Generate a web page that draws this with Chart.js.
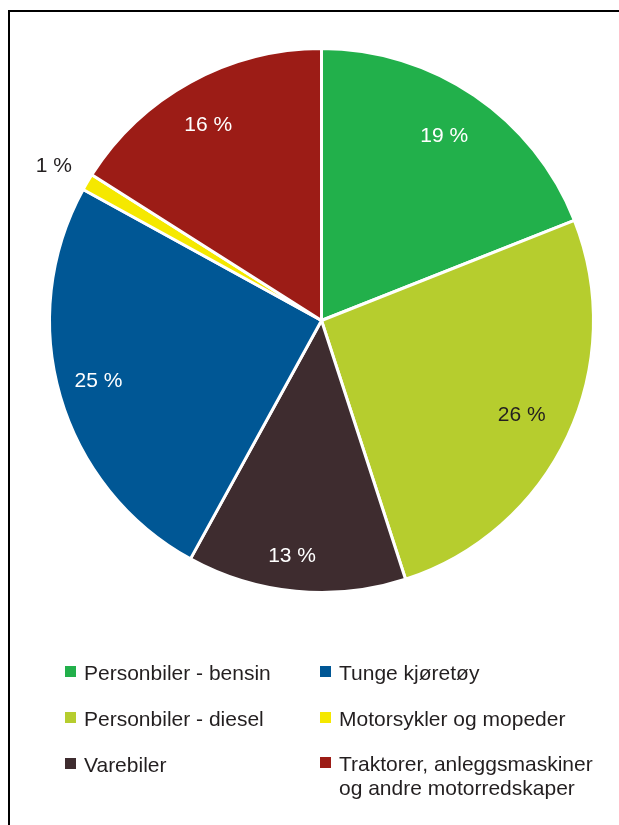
<!DOCTYPE html>
<html>
<head>
<meta charset="utf-8">
<script src="https://cdn.jsdelivr.net/npm/chart.js@4/dist/chart.umd.min.js"></script>
<style>
  html, body { margin: 0; padding: 0; background: #fff; }
  body { width: 619px; height: 825px; position: relative; overflow: hidden;
         font-family: "Liberation Sans", Arial, Helvetica, sans-serif; }
  #frame { position: absolute; left: 8px; top: 10px; width: 640px; height: 840px;
           border-left: 2px solid #000; border-top: 2px solid #000; }
  #wrap { position: absolute; left: 0; top: 0; width: 619px; height: 640px; }
  #legend { position: absolute; left: 0; top: 0; width: 619px; height: 825px; pointer-events: none; }
  .item { position: absolute; font-size: 21px; line-height: 24px; color: #231f20; }
  .item .box { position: absolute; left: -19px; top: 5px; width: 11px; height: 11px; }
</style>
</head>
<body>
<div id="frame"></div>
<div id="wrap"><canvas id="pie"></canvas></div>
<div id="legend"></div>
<script>
// Share of emissions by vehicle group (percent)
const categories = [
  "Personbiler - bensin",
  "Personbiler - diesel",
  "Varebiler",
  "Tunge kjøretøy",
  "Motorsykler og mopeder",
  "Traktorer, anleggsmaskiner og andre motorredskaper"
];
const shares = [19, 26, 13, 25, 1, 16];
const sliceColors = ["#22b04b", "#b6cd2e", "#3e2c2f", "#005795", "#f5e800", "#9c1c16"];
const labelColors = ["#ffffff", "#231f20", "#ffffff", "#ffffff", "#231f20", "#ffffff"];

// Placement of each value label: radial fraction of the outer radius and
// a small angular nudge (degrees) away from the slice's mid angle
const labelRadius = [0.815, 0.815, 0.875, 0.85, 1.135, 0.83];
const labelNudge = [-0.6, 0.2, 1.7, 0.9, -0.7, -1.3];

const sliceLabels = {
  id: 'sliceLabels',
  afterDatasetsDraw(chart) {
    const ctx = chart.ctx;
    const meta = chart.getDatasetMeta(0);
    const values = chart.data.datasets[0].data;
    ctx.save();
    ctx.font = '21px "Liberation Sans", Arial, sans-serif';
    ctx.textAlign = 'center';
    ctx.textBaseline = 'middle';
    meta.data.forEach((arc, i) => {
      const p = arc.getProps(['x', 'y', 'startAngle', 'endAngle', 'outerRadius'], true);
      const mid = (p.startAngle + p.endAngle) / 2 + labelNudge[i] * Math.PI / 180;
      const r = p.outerRadius * labelRadius[i];
      ctx.fillStyle = labelColors[i];
      ctx.fillText(values[i] + ' %', p.x + Math.cos(mid) * r, p.y + Math.sin(mid) * r);
    });
    ctx.restore();
  }
};

const chart = new Chart(document.getElementById('pie'), {
  type: 'pie',
  data: {
    labels: categories,
    datasets: [{
      data: shares,
      backgroundColor: sliceColors,
      borderColor: '#ffffff',
      borderWidth: 3,
      hoverOffset: 0
    }]
  },
  options: {
    responsive: true,
    maintainAspectRatio: false,
    animation: false,
    radius: 272,
    layout: { padding: { left: 24, right: 0, top: 1, bottom: 0 } },
    plugins: {
      legend: { display: false },
      tooltip: { enabled: false }
    }
  },
  plugins: [sliceLabels]
});

// Two-column legend built from the chart data
const legendSlots = [
  { left: 84, top: 661 }, { left: 84, top: 707 }, { left: 84, top: 753 },
  { left: 339, top: 661 }, { left: 339, top: 707 }, { left: 339, top: 752 }
];
const legend = document.getElementById('legend');
chart.data.labels.forEach((label, i) => {
  const item = document.createElement('div');
  item.className = 'item';
  item.style.left = legendSlots[i].left + 'px';
  item.style.top = legendSlots[i].top + 'px';
  item.style.width = '268px';
  const box = document.createElement('span');
  box.className = 'box';
  box.style.background = chart.data.datasets[0].backgroundColor[i];
  item.appendChild(box);
  item.appendChild(document.createTextNode(label));
  legend.appendChild(item);
});
</script>
</body>
</html>
